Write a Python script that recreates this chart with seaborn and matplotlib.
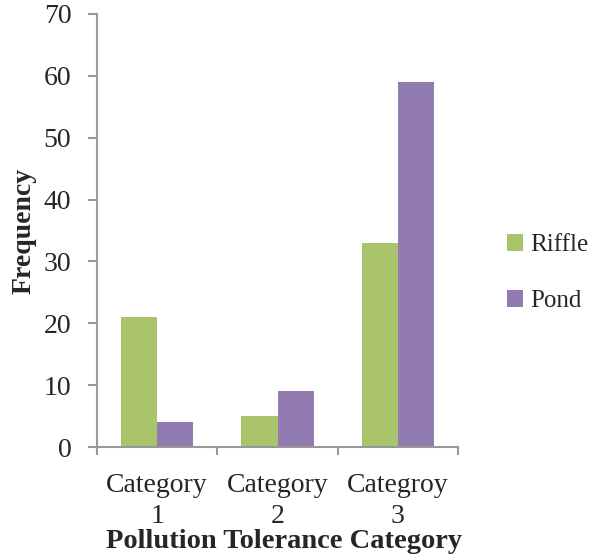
import matplotlib
matplotlib.use("Agg")
import matplotlib.pyplot as plt
import seaborn as sns
import pandas as pd
from matplotlib.patches import Patch

categories = ["Category\n1", "Category\n2", "Categroy\n3"]
series = ["Riffle", "Pond"]
riffle = [21, 5, 33]
pond = [4, 9, 59]
yticks = [0, 10, 20, 30, 40, 50, 60, 70]

df = pd.DataFrame({
    "cat": categories * 2,
    "series": [series[0]] * 3 + [series[1]] * 3,
    "value": riffle + pond,
})

sns.set_style("white")
plt.rcParams["font.family"] = ["Liberation Serif", "DejaVu Serif"]

colors = {"Riffle": "#A9C46A", "Pond": "#917BB1"}
fig = plt.figure(figsize=(5.89, 5.56), dpi=100)
ax = fig.add_axes([0.1647, 0.196, 0.7776 - 0.1647, 0.975 - 0.196])
sns.barplot(data=df, x="cat", y="value", hue="series", palette=colors,
            width=0.6, gap=0, ax=ax, legend=False, saturation=1,
            edgecolor="none", linewidth=0)

ax.set_xlim(-0.5, 2.5)
ax.set_ylim(0, 70)
ax.set_yticks(yticks)
ax.set_yticklabels([str(v) for v in yticks], fontsize=20)

ax.set_xticks([-0.5, 0.5, 1.5, 2.5])
ax.set_xticklabels([])
ax.set_xticks([0, 1, 2], minor=True)
ax.set_xticklabels(categories, minor=True, fontsize=20, linespacing=1.3)
ax.tick_params(axis="x", which="minor", length=0, pad=19)
ax.tick_params(axis="x", which="major", length=6, width=1.5, color="#999999", direction="out", bottom=True)
ax.tick_params(axis="y", length=6.5, width=1.5, color="#999999", direction="out", left=True, pad=12)

for s in ["top", "right"]:
    ax.spines[s].set_visible(False)
for s in ["left", "bottom"]:
    ax.spines[s].set_color("#999999")
    ax.spines[s].set_linewidth(1.5)

ax.set_xlabel("Pollution Tolerance Category", fontsize=20.5, fontweight="bold")
ax.xaxis.set_label_coords(0.517, -0.219)
ax.xaxis.label.set_va("center")
ax.set_ylabel("Frequency", fontsize=20, fontweight="bold", labelpad=5)

handles = [Patch(facecolor=colors[s], edgecolor="none") for s in series]
fig.legend(handles, series, loc="center left", bbox_to_anchor=(0.822, 0.509),
           frameon=False, fontsize=18, handlelength=0.65, handleheight=0.65,
           handletextpad=0.3, labelspacing=1.35)

fig.savefig("out.png", dpi=100)
